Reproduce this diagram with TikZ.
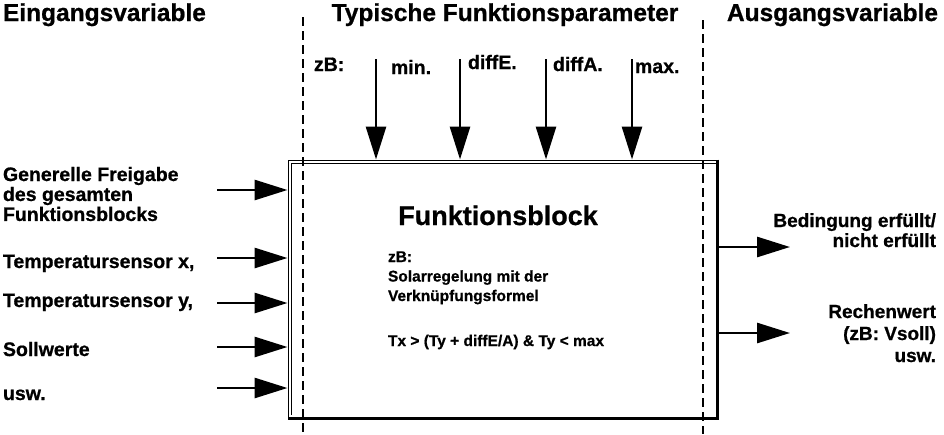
\documentclass[tikz,border=0pt]{standalone}
\usepackage{fontspec}
\setmainfont{Liberation Sans}[BoldFeatures={FakeBold=0.8}]
\usetikzlibrary{arrows.meta}
\newcommand{\fsz}[2]{\fontsize{#1}{#2}\selectfont\bfseries}
\tikzset{
  lbl/.style={inner sep=0pt, outer sep=0pt, font=\fsz{19.5}{19.5}},
  ttl/.style={inner sep=0pt, outer sep=0pt, font=\fsz{24.5}{25}},
  boxtext/.style={inner sep=0pt, outer sep=0pt, font=\fsz{15.5}{19.5}},
  arr/.style={line width=2.8pt, -{Triangle[length=33pt,width=20pt]}},
  divider/.style={line width=2pt, dash pattern=on 9pt off 5pt},
  frame/.style={draw, line width=1pt, inner sep=0pt, minimum width=429pt, minimum height=258pt}
}
\begin{document}
\begin{tikzpicture}[x=1pt,y=-1pt]
\useasboundingbox (0,0) rectangle (944,434);
\fill[white] (0,0) rectangle (944,434);

% function block frame
\node[frame] (fb) at (502.5,289) {};
\draw[line width=1pt] ([shift={(3.5,-4)}]fb.south west) -- ([shift={(3.5,4)}]fb.north west) -- ([shift={(0,4)}]fb.north east);
\draw[line width=3pt] (fb.north east) -- (fb.south east) -- (fb.south west);

% dividers
\coordinate (d1t) at (303,17);
\coordinate (d1b) at (303,434);
\coordinate (d2t) at (703,20);
\coordinate (d2b) at (703,434);
\draw[divider] (d1t) -- (d1b);
\draw[divider] (d2t) -- (d2b);

% titles
\node[ttl, anchor=base west] (t1) at (3,21) {Eingangsvariable};
\node[ttl, anchor=base] (t2) at (505,21) {Typische Funktionsparameter};
\node[ttl, anchor=base east] (t3) at (938,21) {Ausgangsvariable};

% block texts
\node[inner sep=0pt, anchor=base, font=\fsz{27}{27}] (fbt) at (498,225) {Funktionsblock};
\node[boxtext, anchor=base west] (ex) at (388,262) {\begin{tabular}[t]{@{}l@{}}zB:\\Solarregelung mit der\\Verknüpfungsformel\end{tabular}};
\node[boxtext, anchor=base west] (fx) at (388,346) {Tx > (Ty + diffE/A) \& Ty < max};

% parameter arrows
\coordinate (p1) at (376,59);
\coordinate (p2) at (460,59);
\coordinate (p3) at (546,59);
\coordinate (p4) at (632,59);
\draw[arr] (p1) -- (p1 |- fb.north);
\draw[arr] (p2) -- (p2 |- fb.north);
\draw[arr] (p3) -- (p3 |- fb.north);
\draw[arr] (p4) -- (p4 |- fb.north);
\node[lbl, anchor=base west] (zb) at (314,71) {zB:};
\node[lbl, anchor=base west] (pmin) at (391,74) {min.};
\node[lbl, anchor=base west] (pde) at (468,69) {diffE.};
\node[lbl, anchor=base west] (pda) at (553,71) {diffA.};
\node[lbl, anchor=base west] (pmax) at (635,73) {max.};

% inputs
\coordinate (i1) at (217,190);
\coordinate (i2) at (217,258);
\coordinate (i3) at (217,303);
\coordinate (i4) at (217,347);
\coordinate (i5) at (217,388);
\draw[arr] (i1) -- (i1 -| fb.west);
\draw[arr] (i2) -- (i2 -| fb.west);
\draw[arr] (i3) -- (i3 -| fb.west);
\draw[arr] (i4) -- (i4 -| fb.west);
\draw[arr] (i5) -- (i5 -| fb.west);
\node[lbl, anchor=base west] (l1) at (3,181) {\begin{tabular}[t]{@{}l@{}}Generelle Freigabe\\des gesamten\\Funktionsblocks\end{tabular}};
\node[lbl, anchor=base west] (l2) at (3,268) {Temperatursensor x,};
\node[lbl, anchor=base west] (l3) at (3,307) {Temperatursensor y,};
\node[lbl, anchor=base west] (l4) at (3,356) {Sollwerte};
\node[lbl, anchor=base west] (l5) at (3,400) {usw.};

% outputs
\coordinate (o1) at (790,247);
\coordinate (o2) at (790,333);
\draw[arr] (o1 -| fb.east) -- (o1);
\draw[arr] (o2 -| fb.east) -- (o2);
\node[lbl, anchor=base east, font=\fsz{19}{20}] (r1) at (936,227) {\begin{tabular}[t]{@{}r@{}}Bedingung erfüllt/\\nicht erfüllt\end{tabular}};
\node[lbl, anchor=base east, font=\fsz{19}{22}] (r2) at (936,318) {\begin{tabular}[t]{@{}r@{}}Rechenwert\\(zB: Vsoll)\\usw.\end{tabular}};
\end{tikzpicture}
\end{document}
